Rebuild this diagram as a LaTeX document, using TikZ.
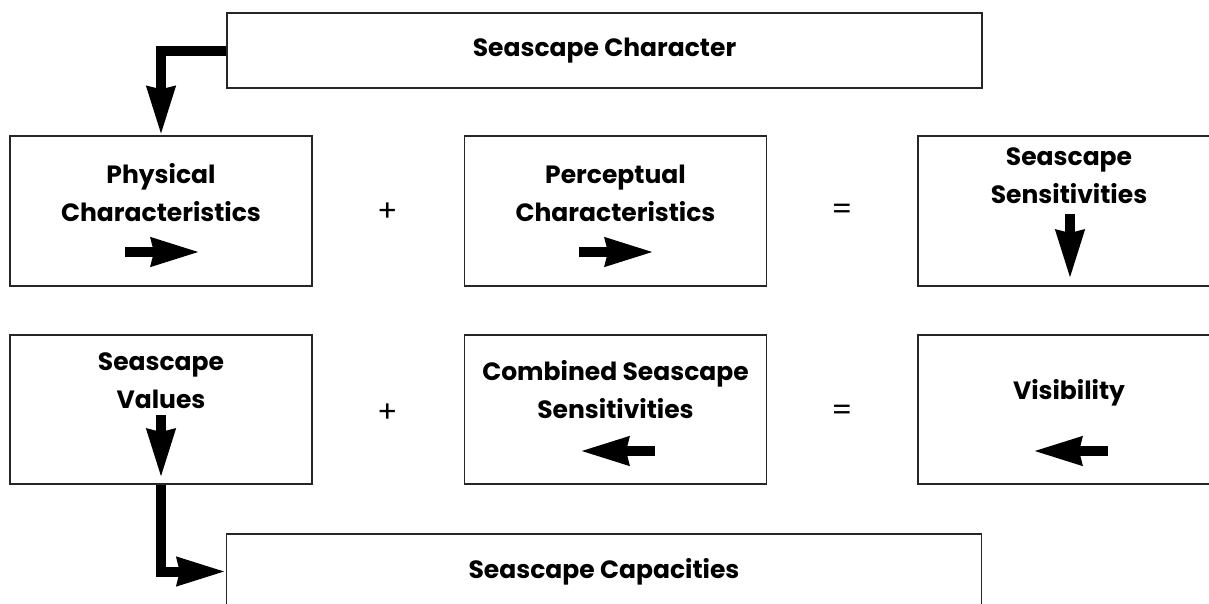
\documentclass[tikz,border=0pt]{standalone}
\usepackage{fontspec}
\setmainfont{Poppins}
\usetikzlibrary{arrows.meta}

\begin{document}
\begin{tikzpicture}[x=1pt,y=-1pt,
					panel/.style={draw=black!85,line width=1.3pt,inner sep=0pt,minimum height=150pt,minimum width=302pt},
					wide/.style={panel,minimum height=75pt,minimum width=755pt},
					label/.style={font=\fontsize{25}{38}\selectfont\bfseries,align=center},
					sign/.style={font=\fontsize{30}{32}\selectfont},
					fat/.style={line width=10pt,-{Stealth[length=48pt,width=27pt,inset=2pt]}}]
					\path[use as bounding box,clip] (0,0) rectangle (1209,603);
					% boxes
					\path (604.5,50.5) node[wide] (char) {};
					\path (161,211) node[panel] (phys) {};
					\path (615.5,211) node[panel] (perc) {};
					\path (1069,211) node[panel] (sens) {};
					\path (161,409.5) node[panel,minimum height=149pt] (vals) {};
					\path (615.5,409.5) node[panel,minimum height=149pt] (comb) {};
					\path (1069,409.5) node[panel,minimum height=149pt] (vis) {};
					\path (604,571.5) node[wide] (cap) {};
					% texts
					\path (604.5,51) node[label] (tchar) {Seascape Character};
					\path (161,193) node[label] (tphys) {Physical\\Characteristics};
					\path (615.5,193) node[label] (tperc) {Perceptual\\Characteristics};
					\path (1069,176) node[label] (tsens) {Seascape\\Sensitivities};
					\path (161,381) node[label] (tvals) {Seascape\\Values};
					\path (615.5,390) node[label] (tcomb) {Combined Seascape\\Sensitivities};
					\path (1069,393) node[label] (tvis) {Visibility};
					\path (604,572) node[label] (tcap) {Seascape Capacities};
					\path (388,212) node[sign] (p1) {+};
					\path (842,212) node[sign] (e1) {=};
					\path (388,413) node[sign] (p2) {+};
					\path (842,413) node[sign] (e2) {=};
					% arrows
					\draw[fat] (char.west) -| (phys.north);
					\draw[fat] (vals.south) |- (cap.west);
					\draw[fat] (125,252) -- (200,252);
					\draw[fat] (579,252) -- (654,252);
					\draw[fat] (1070,214) -- (1070,279);
					\draw[fat] (161,415) -- (161,478);
					\draw[fat] (655,451) -- (580,451);
					\draw[fat] (1108,451) -- (1033,451);
					\end{tikzpicture}
\end{document}
